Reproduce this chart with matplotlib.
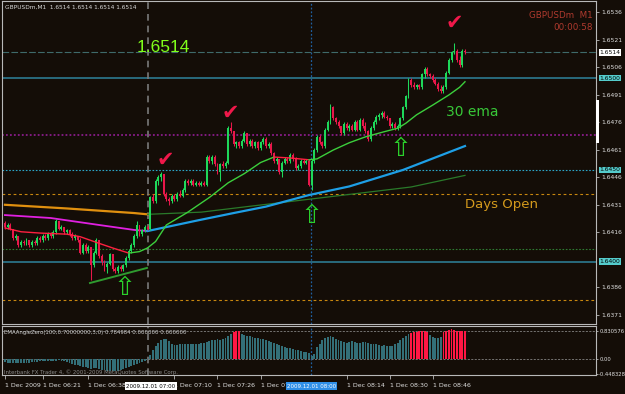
import numpy as np
import matplotlib
matplotlib.use("Agg")
import matplotlib.pyplot as plt
import matplotlib.transforms as mtransforms
from matplotlib.patches import Rectangle

# GBPUSDm M1 candles, prices as pips after 1.6 (e.g. 431 -> 1.6431)
open_pips = [421, 419, 420, 418, 413, 414, 409, 411, 410, 412,
             409, 411, 410, 413, 412, 414, 413, 415, 414, 416,
             422, 418, 419, 416, 417, 415, 413, 414, 412, 405,
             409, 406, 408, 398, 405, 412, 403, 400, 397, 399,
             404, 396, 395, 397, 396, 398, 402, 406, 409, 414,
             420, 415, 417, 419, 418, 435, 433, 444, 446, 448,
             437, 434, 433, 436, 434, 437, 436, 439, 444, 443,
             444, 442, 443, 442, 443, 442, 457, 455, 457, 453,
             449, 453, 452, 454, 473, 471, 464, 465, 463, 466,
             470, 464, 466, 463, 465, 462, 465, 467, 463, 464,
             459, 455, 456, 449, 454, 456, 455, 458, 456, 451,
             452, 455, 454, 455, 442, 455, 461, 468, 465, 463,
             472, 476, 484, 478, 476, 474, 470, 475, 473, 474,
             472, 476, 472, 477, 474, 471, 467,
             473, 476, 479, 480, 481, 479, 478, 474, 475, 473,
             474, 478, 484, 490, 499, 496, 495, 496, 495, 502,
             505, 502, 501, 499, 497, 494, 493, 495, 503, 510,
             514, 515, 510, 507, 515]
close_pips = [419, 420, 418, 413, 414, 409, 411, 410, 412, 409,
              411, 410, 413, 412, 414, 413, 415, 414, 416, 422,
              418, 419, 416, 417, 415, 413, 414, 412, 405, 409,
              406, 408, 398, 405, 412, 403, 400, 397, 399, 404,
              396, 395, 397, 396, 398, 402, 406, 409, 414, 420,
              415, 417, 419, 418, 435, 433, 444, 446, 448, 437,
              434, 433, 436, 434, 437, 436, 439, 444, 443, 444,
              442, 443, 442, 443, 442, 457, 455, 457, 453, 449,
              453, 452, 454, 473, 471, 464, 465, 463, 466, 470,
              464, 466, 463, 465, 462, 465, 467, 463, 464, 459,
              455, 456, 449, 454, 456, 455, 458, 456, 451, 452,
              455, 454, 455, 442, 455, 461, 468, 465, 463, 472,
              476, 484, 478, 476, 474, 470, 475, 473, 474, 472,
              476, 472, 477, 474, 471, 467, 473,
              476, 479, 480, 481, 479, 478, 474, 475, 473, 474,
              478, 484, 490, 499, 496, 495, 496, 495, 502, 505,
              502, 501, 499, 497, 494, 493, 495, 503, 510, 514,
              515, 510, 507, 515, 514]
high_pips = [422, 421, 421, 418, 415, 414, 412, 412, 413, 412,
             412, 412, 414, 414, 415, 415, 416, 416, 417, 423,
             422, 420, 419, 418, 418, 416, 415, 414, 413, 410,
             410, 409, 408, 406, 413, 412, 404, 401, 400, 405,
             404, 397, 398, 398, 399, 403, 407, 410, 415, 422,
             420, 418, 420, 420, 436, 437, 445, 447, 449, 448,
             438, 435, 437, 437, 438, 439, 440, 445, 445, 445,
             445, 444, 444, 444, 444, 458, 458, 458, 458, 454,
             454, 455, 455, 474, 476, 471, 466, 466, 467, 471,
             470, 467, 467, 466, 466, 466, 468, 468, 465, 465,
             460, 457, 456, 455, 457, 457, 459, 459, 457, 453,
             456, 456, 456, 456, 456, 462, 469, 469, 466, 473,
             477, 486, 485, 479, 477, 474, 476, 476, 475, 475,
             477, 477, 478, 478, 476, 472, 474,
             477, 480, 481, 482, 482, 480, 478, 476, 476, 475,
             479, 485, 491, 500, 500, 498, 497, 497, 503, 506,
             506, 503, 502, 500, 498, 496, 496, 504, 511, 515,
             519, 516, 512, 516, 516]
low_pips = [418, 418, 417, 412, 412, 408, 408, 409, 409, 408,
            408, 409, 409, 411, 411, 412, 412, 413, 413, 415,
            417, 417, 415, 415, 414, 412, 412, 411, 404, 404,
            405, 405, 390, 397, 404, 402, 398, 395, 394, 398,
            395, 394, 394, 395, 395, 397, 401, 405, 408, 413,
            414, 414, 416, 417, 417, 432, 432, 442, 444, 436,
            433, 431, 432, 433, 433, 435, 435, 438, 442, 442,
            441, 441, 441, 441, 441, 441, 454, 453, 452, 448,
            444, 451, 451, 453, 470, 463, 462, 462, 462, 465,
            463, 463, 462, 462, 461, 461, 464, 462, 462, 458,
            454, 453, 448, 446, 453, 454, 454, 455, 450, 450,
            451, 453, 453, 441, 439, 454, 460, 464, 462, 462,
            471, 475, 477, 475, 473, 469, 469, 472, 471, 471,
            471, 471, 471, 473, 470, 466, 466,
            472, 475, 477, 478, 478, 477, 473, 473, 472, 472,
            473, 477, 483, 489, 495, 494, 494, 494, 494, 500,
            501, 500, 498, 496, 493, 492, 492, 494, 502, 509,
            513, 509, 506, 506, 513]

# moving averages (bar index, pips), split where the indicator changes colour
slow_down_t = [0, 23, 48, 53]
slow_down_v = [431, 429, 426.5, 425.8]
slow_up_t = [53, 73, 90, 113, 151, 171]
slow_up_v = [425.8, 427, 430, 434, 440.7, 447]
mid_down_t = [0, 17, 35, 48, 53]
mid_down_v = [425.4, 423.8, 420, 417.3, 416.7]
mid_up_t = [53, 72, 85, 97, 113, 128, 148, 171]
mid_up_v = [416.7, 422.6, 426.5, 430, 436.3, 441, 450, 463]
ema30_down1_t = [0, 6, 13, 23, 28, 35, 40, 46]
ema30_down1_v = [418.4, 416.3, 415.6, 415, 413.6, 410, 407.5, 404.7]
ema30_up1_t = [46, 50, 53, 56, 60, 68, 76, 83, 89, 95, 100]
ema30_up1_v = [404.7, 405.5, 407.5, 411, 420, 427, 435, 443, 448, 454, 457]
ema30_down2_t = [100, 106, 113]
ema30_down2_v = [457, 456.5, 455.5]
ema30_up2_t = [113, 116, 122, 128, 134, 141, 146, 149, 153, 159, 165, 169, 171]
ema30_up2_v = [455.5, 456, 460.8, 464.8, 468, 470.8, 472.7, 475.4, 480, 485.3,
               490.8, 495, 498]

# EMAAngleZero histogram
angle = [-0.10, -0.11, -0.12, -0.13, -0.12, -0.13, -0.12, -0.11, -0.12, -0.11, -0.10, -0.09,
         -0.08, -0.07, -0.06, -0.06, -0.05, -0.06, -0.07, -0.05, -0.04, -0.05, -0.07, -0.09,
         -0.12, -0.15, -0.17, -0.19, -0.22, -0.24, -0.25, -0.27, -0.30, -0.28, -0.26, -0.29,
         -0.32, -0.34, -0.36, -0.37, -0.36, -0.37, -0.35, -0.33,
         -0.30, -0.28, -0.25, -0.22, -0.18, -0.14, -0.11, -0.08, -0.05, -0.03,
         0.12, 0.28, 0.38, 0.47, 0.55,
         0.59, 0.58, 0.52, 0.46,
         0.43, 0.42, 0.44, 0.45, 0.45, 0.44, 0.45, 0.46, 0.45, 0.46, 0.47, 0.48, 0.50,
         0.53, 0.55, 0.57, 0.58, 0.57, 0.59, 0.62, 0.68, 0.73,
         0.80, 0.83, 0.82, 0.74,
         0.72, 0.69, 0.67, 0.65, 0.63, 0.61, 0.60, 0.58,
         0.55, 0.52, 0.50, 0.47, 0.44, 0.41, 0.38, 0.36, 0.34, 0.32,
         0.30, 0.28, 0.26, 0.24, 0.22, 0.20, 0.18, 0.10, 0.15,
         0.35, 0.45, 0.55, 0.62, 0.66, 0.69, 0.64,
         0.58, 0.55, 0.52, 0.50, 0.49, 0.51, 0.52, 0.50, 0.48, 0.47, 0.50, 0.51, 0.49, 0.46,
         0.45, 0.44, 0.42, 0.40, 0.41, 0.39, 0.38, 0.40, 0.44, 0.48,
         0.55, 0.62, 0.68, 0.73,
         0.78, 0.79, 0.80, 0.82, 0.84, 0.83, 0.80,
         0.70, 0.66, 0.63, 0.61, 0.66,
         0.80, 0.84, 0.86, 0.88, 0.86, 0.84, 0.83, 0.82, 0.83]
angle_hi = 0.830576
angle_lo = -0.448328

# chart objects
hlines = [(1.6514, '#3f6a6a', (0, (6, 2)), 0.8),
          (1.6500, '#2b7186', '-', 1.3),
          (1.6469, '#8a1c8a', (0, (1, 1.2)), 1.3),
          (1.6450, '#2aa5c8', (0, (1.5, 1.5)), 0.8),
          (1.6437, '#c8870f', (0, (2.5, 2.5)), 0.8),
          (1.6407, '#2e7d32', (0, (1.5, 1.5)), 0.8),
          (1.6400, '#2b7186', '-', 1.3),
          (1.6379, '#c8870f', (0, (2.5, 2.5)), 0.8)]
line_boxes = [('1.6514', 'white'), ('1.6500', '#55cccc'), ('1.6450', '#55cccc'), ('1.6400', '#55cccc')]
price_ticks = [1.6536, 1.6521, 1.6506, 1.6491, 1.6476, 1.6461, 1.6446, 1.6431, 1.6416, 1.6386, 1.6371]
time_ticks = [0, 14, 31, 63, 79, 95, 127, 143, 159]
time_labels = ['1 Dec 2009', '1 Dec 06:21', '1 Dec 06:38', '1 Dec 07:10',
               '1 Dec 07:26', '1 Dec 07:42', '1 Dec 08:14', '1 Dec 08:30',
               '1 Dec 08:46']
trend_t = [31.6, 52.8]
trend_p = [1.63884, 1.63966]
check_t = [59.5, 83.6, 167]
check_p = [1.64554, 1.6481, 1.6530]
arrow_t = [44.6, 113.8, 147.2]
arrow_p = [1.63857, 1.64249, 1.64614]

BG = '#140d07'
BULL = '#1ed85a'
BEAR = '#e8174a'
W, H = 625, 394


def to_price(p):
    return 1.6 + np.asarray(p, dtype=float) / 10000


def frac(x0, y0, x1, y1):
    return [x0 / W, 1 - y1 / H, (x1 - x0) / W, (y1 - y0) / H]


fig = plt.figure(figsize=(6.25, 3.94), dpi=100, facecolor=BG)
ax = fig.add_axes(frac(2, 1, 596, 324), facecolor=BG)
axi = fig.add_axes(frac(2, 326, 596, 375), facecolor=BG, sharex=ax)

t = np.arange(len(open_pips))
o, c = to_price(open_pips), to_price(close_pips)
hi, lo = to_price(high_pips), to_price(low_pips)
col = np.where(c >= o, BULL, BEAR)

for price, color, ls, lw in hlines:
    ax.axhline(price, color=color, ls=ls, lw=lw, zorder=1)
for a in (ax, axi):
    a.axvline(53.2, color='#7a7a7a', ls=(0, (4, 3)), lw=1.2, zorder=2)
    a.axvline(113.8, color='#1f5fa0', ls=(0, (1.5, 1.5)), lw=0.9, zorder=2)

# moving averages
ax.plot(slow_down_t, to_price(slow_down_v), color='#e0900f', lw=1.6, zorder=3)
ax.plot(slow_up_t, to_price(slow_up_v), color='#2a7a2a', lw=0.9, zorder=3)
ax.plot(mid_down_t, to_price(mid_down_v), color='#e020e0', lw=1.3, zorder=3)
ax.plot(mid_up_t, to_price(mid_up_v), color='#1e9fe6', lw=1.6, zorder=3)
ax.plot(ema30_down1_t, to_price(ema30_down1_v), color='#ff2040', lw=1.0, zorder=6)
ax.plot(ema30_up1_t, to_price(ema30_up1_v), color='#3ccf3c', lw=1.0, zorder=6)
ax.plot(ema30_down2_t, to_price(ema30_down2_v), color='#ff2040', lw=1.0, zorder=6)
ax.plot(ema30_up2_t, to_price(ema30_up2_v), color='#3ccf3c', lw=1.0, zorder=6)
ax.plot(trend_t, trend_p, color='#2f9a2f', lw=1.4, zorder=3)

# candles
ax.vlines(t, lo, hi, colors=col, lw=0.75, zorder=4)
body = np.maximum(np.abs(c - o), 0.00003)
ax.bar(t, body, bottom=np.minimum(o, c), width=0.72, color=col, lw=0, zorder=5)

# annotations
for x, y in zip(check_t, check_p):
    ax.text(x, y, '\u2714', color='#f0184a', fontsize=15, ha='center', va='center', zorder=7)
for x, y in zip(arrow_t, arrow_p):
    ax.text(x, y, '\u21e7', color='#2bd02b', fontsize=19, ha='center', va='center', zorder=7)
ax.text(59, 1.65164, '1.6514', color='#80ff1a', fontsize=12.5, family='Liberation Sans',
        ha='center', va='center')
ax.text(164, 1.64815, '30 ema', color='#38c838', fontsize=10, ha='left', va='center')
ax.text(171, 1.64314, 'Days Open', color='#d49a1c', fontsize=9.5, ha='left', va='center')
ax.text(0.005, 0.982, 'GBPUSDm,M1  1.6514 1.6514 1.6514 1.6514', transform=ax.transAxes,
        color='#d8d8d8', fontsize=4.2, va='center')
ax.text(0.995, 0.954, 'GBPUSDm  M1', transform=ax.transAxes, color='#b03a2e',
        fontsize=6.3, ha='right', va='center')
ax.text(0.995, 0.917, '00:00:58', transform=ax.transAxes, color='#b03a2e',
        fontsize=6.3, ha='right', va='center')

ax.set_xlim(-1.1, 219.7)
ax.set_ylim(1.636607, 1.654199)
ax.yaxis.tick_right()
ax.set_yticks(price_ticks)
ax.set_yticklabels(['%.4f' % p for p in price_ticks])
ax.tick_params(axis='y', colors='#b8b8b8', labelcolor='#e0e0e0', labelsize=4.3,
               length=2.5, width=0.6, pad=1.5)
ax.tick_params(axis='x', bottom=False, labelbottom=False)
bt = mtransforms.blended_transform_factory(ax.transAxes, ax.transData)
for txt, fc in line_boxes:
    ax.text(1.006, float(txt), txt, transform=bt, fontsize=4.3, color='black',
            ha='left', va='center',
            bbox=dict(boxstyle='square,pad=0.15', fc=fc, ec='none'))

# indicator panel
ang = np.array(angle)
acol = np.where(ang > 0.75, '#ff1744', '#336f78')
axi.bar(t, ang, width=0.7, color=acol, lw=0, zorder=3)
for lev in (angle_hi, 0.0):
    axi.axhline(lev, color='#9a9a9a', ls=(0, (3, 2)), lw=0.5, zorder=1)
axi.set_ylim(-0.475, 0.98)
axi.yaxis.tick_right()
axi.set_yticks([angle_hi, 0.0, angle_lo])
axi.set_yticklabels(['0.830576', '0.00', '-0.448328'])
axi.tick_params(axis='y', colors='#b8b8b8', labelcolor='#e0e0e0', labelsize=3.8,
                length=1.5, width=0.6, pad=0.8)
axi.text(0.004, 0.86, 'EMAAngleZero(100,0.70000000,3,0) 0.784984 0.000000 0.000000',
         transform=axi.transAxes, color='#d0d0d0', fontsize=3.9, va='center')
axi.text(0.004, 0.06, 'Interbank FX Trader 4, \u00a9 2001-2009 MetaQuotes Software Corp.',
         transform=axi.transAxes, color='#8a8a8a', fontsize=3.9, va='center')

axi.set_xticks(time_ticks)
axi.set_xticklabels(time_labels)
axi.tick_params(axis='x', colors='#b8b8b8', labelcolor='#e0e0e0', labelsize=4.5,
                length=3, width=0.6, pad=3)
for lbl in axi.get_xticklabels():
    lbl.set_ha('left')
xt = mtransforms.blended_transform_factory(axi.transData, axi.transAxes)
axi.text(54.3, -0.225, '2009.12.01 07:00', transform=xt, fontsize=4.0, color='black',
         ha='center', va='center', zorder=10,
         bbox=dict(boxstyle='square,pad=0.2', fc='white', ec='none'))
axi.text(114, -0.225, '2009.12.01 08:00', transform=xt, fontsize=4.0, color='white',
         ha='center', va='center', zorder=10,
         bbox=dict(boxstyle='square,pad=0.2', fc='#2f8fe8', ec='none'))

for a in (ax, axi):
    for s in a.spines.values():
        s.set_color('#b8b8b8')
        s.set_linewidth(0.8)

fig.patches.append(Rectangle((596 / W, 1 - 143 / H), 3 / W, 43 / H,
                             transform=fig.transFigure, fc='white', ec='none'))

fig.savefig('out.png', dpi=100, facecolor=BG)
